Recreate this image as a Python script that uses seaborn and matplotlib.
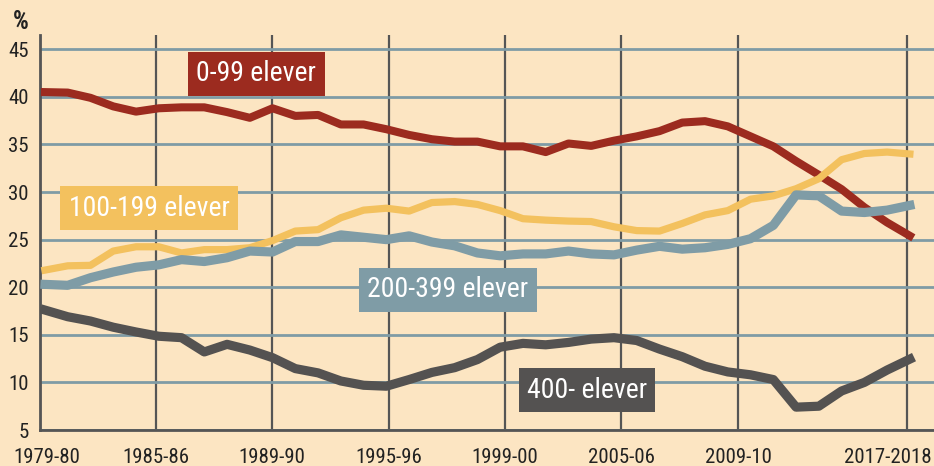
import pandas as pd
import matplotlib
matplotlib.use("Agg")
import matplotlib.pyplot as plt
import matplotlib.transforms as mtransforms
import seaborn as sns

# school years as an index (0 = 1979-80)
years = list(range(39))

small = [40.5, 40.45, 39.9, 39.0, 38.45, 38.8, 38.9, 38.9, 38.4, 37.8,
         38.8, 38.0, 38.1, 37.1, 37.1, 36.6, 36.0, 35.55, 35.3, 35.3,
         34.8, 34.8, 34.2, 35.1, 34.85, 35.4, 35.85, 36.4, 37.3, 37.45,
         36.9, 35.85, 34.8, 33.25, 31.8, 30.3, 28.4, 26.8, 25.4]
mid = [21.8, 22.25, 22.3, 23.8, 24.25, 24.25, 23.6, 23.95, 23.95, 24.15,
       24.9, 25.9, 26.05, 27.3, 28.1, 28.3, 28.0, 28.9, 29.0, 28.7,
       28.05, 27.2, 27.05, 26.95, 26.9, 26.35, 25.95, 25.9, 26.7, 27.6,
       28.05, 29.25, 29.6, 30.35, 31.4, 33.4, 34.05, 34.2, 34.0]
large = [20.3, 20.2, 21.0, 21.6, 22.1, 22.35, 22.9, 22.7, 23.1, 23.8,
         23.7, 24.8, 24.8, 25.5, 25.25, 25.0, 25.4, 24.75, 24.35, 23.6,
         23.3, 23.5, 23.5, 23.8, 23.5, 23.4, 23.9, 24.3, 24.0, 24.15,
         24.5, 25.1, 26.5, 29.7, 29.6, 28.0, 27.85, 28.1, 28.6]
biggest = [17.6, 16.9, 16.45, 15.8, 15.3, 14.85, 14.7, 13.2, 14.0, 13.4,
           12.6, 11.45, 11.0, 10.15, 9.7, 9.6, 10.3, 11.05, 11.55, 12.4,
           13.7, 14.1, 13.95, 14.2, 14.55, 14.7, 14.4, 13.5, 12.7, 11.7,
           11.1, 10.8, 10.3, 7.4, 7.5, 9.1, 10.0, 11.3, 12.45]

series_names = ["0-99 elever", "100-199 elever", "200-399 elever", "400- elever"]
tick_pos = [-0.24, 4.88, 9.97, 15.11, 20.21, 25.31, 30.45, 37.87]
tick_labels = ["1979-80", "1985-86", "1989-90", "1995-96", "1999-00",
               "2005-06", "2009-10", "2017-2018"]
y_ticks = [5, 10, 15, 20, 25, 30, 35, 40, 45]

colors = {"0-99 elever": "#9c2b1f", "100-199 elever": "#f3c15e",
          "200-399 elever": "#7f9ca6", "400- elever": "#545251"}
widths = {"0-99 elever": 5.8, "100-199 elever": 5.2,
          "200-399 elever": 6.6, "400- elever": 6.6}
# label box centres (index, percent)
label_pos = {"0-99 elever": (9.29, 42.43), "100-199 elever": (4.57, 28.3),
             "200-399 elever": (17.71, 19.74), "400- elever": (23.81, 9.18)}

BG = "#fce5c2"
FONT = ["Roboto Condensed", "Liberation Sans Narrow", "DejaVu Sans"]


def build_frame():
    rows = []
    for name, vals in zip(series_names, [small, mid, large, biggest]):
        for x, v in zip(years, vals):
            rows.append({"year": x, "andel": v, "grupp": name})
    return pd.DataFrame(rows)


def shift_label(fig, label, dx_px):
    # flytta en ticketikett några pixlar i sidled
    off = mtransforms.ScaledTranslation(dx_px / 100, 0, fig.dpi_scale_trans)
    label.set_transform(label.get_transform() + off)


def main():
    df = build_frame()
    plt.rcParams["font.family"] = FONT
    plt.rcParams["font.stretch"] = "condensed"

    fig = plt.figure(figsize=(9.34, 4.66), dpi=100, facecolor=BG)
    ax = fig.add_axes([39.5 / 934, 36 / 466, 1 - 39.5 / 934, 395 / 466])
    ax.set_facecolor(BG)

    for name in series_names:
        sns.lineplot(data=df[df["grupp"] == name], x="year", y="andel",
                     color=colors[name], lw=widths[name], ax=ax,
                     legend=False, solid_joinstyle="round", zorder=3)

    # etiketter i färgade rutor
    for name in series_names:
        x, y = label_pos[name]
        ax.text(x, y, name, color="white", fontsize=20, ha="center", va="center",
                zorder=5, bbox=dict(boxstyle="square,pad=0.3", fc=colors[name], ec="none"))

    ax.set_xlim(-0.24, 39.06)
    ax.set_ylim(5, 46.5)
    ax.set_xticks(tick_pos)
    ax.set_xticklabels(tick_labels)
    ax.set_yticks(y_ticks)
    ax.tick_params(axis="both", length=0, labelsize=15, colors="#222222")
    ax.tick_params(axis="x", pad=13)
    ax.tick_params(axis="y", pad=8)
    labels = ax.get_xticklabels()
    shift_label(fig, labels[0], 7)
    labels[-1].set_horizontalalignment("right")
    shift_label(fig, labels[-1], 25)

    ax.set_axisbelow(True)
    ax.xaxis.grid(True, color="#555555", lw=1.6)
    ax.yaxis.grid(True, color="#7f9ba5", lw=2)
    ax.set_xlabel("")
    ax.set_ylabel("")
    for side in ["top", "right"]:
        ax.spines[side].set_visible(False)
    for side in ["left", "bottom"]:
        ax.spines[side].set_color("#555555")
        ax.spines[side].set_linewidth(2)

    fig.text(21 / 934, 1 - 22 / 466, "%", fontsize=18, fontweight="bold",
             ha="center", va="center", color="#222222")

    fig.savefig("out.png", dpi=100, facecolor=BG)


if __name__ == "__main__":
    main()
